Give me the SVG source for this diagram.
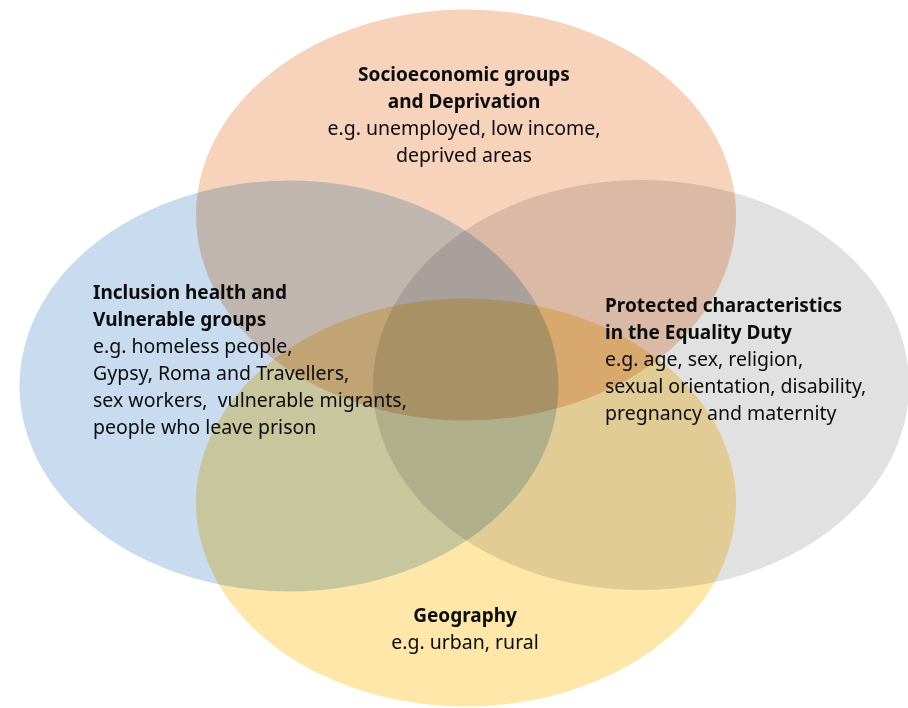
<svg xmlns="http://www.w3.org/2000/svg" width="908" height="708" viewBox="0 0 908 708">
<style>
.c{mix-blend-mode:multiply}
text{font-family:"Noto Sans","Open Sans","Liberation Sans",sans-serif;fill:#0b0c0c}
.b{font-weight:bold;font-size:19px}
.r{font-size:19.5px}
.m{text-anchor:middle}
</style>
<rect width="908" height="708" fill="#ffffff"/>
<g id="circles">
<ellipse id="socio" class="c" cx="466" cy="215" rx="270" ry="205.5" fill="#F7D3BC"/>
<ellipse id="inclusion" class="c" cx="289" cy="386" rx="269.5" ry="205.5" fill="#C8DBEF"/>
<ellipse id="protected" class="c" cx="641" cy="385" rx="268" ry="205" fill="#E1E1E1"/>
<ellipse id="geography" class="c" cx="466" cy="502.5" rx="270" ry="204" fill="#FEE7A8"/>
</g>
<g id="labels">
<g id="socio-label">
<text class="b m" x="464" y="81">Socioeconomic groups</text>
<text class="b m" x="464" y="108">and Deprivation</text>
<text class="r m" x="464" y="135">e.g. unemployed, low income,</text>
<text class="r m" x="464" y="162">deprived areas</text>
</g>
<g id="inclusion-label">
<text class="b" x="93" y="299">Inclusion health and</text>
<text class="b" x="93" y="326">Vulnerable groups</text>
<text class="r" x="93" y="353">e.g. homeless people,</text>
<text class="r" x="93" y="380">Gypsy, Roma and Travellers,</text>
<text class="r" x="93" y="407" xml:space="preserve">sex workers,  vulnerable migrants,</text>
<text class="r" x="93" y="434">people who leave prison</text>
</g>
<g id="protected-label">
<text class="b" x="605" y="312">Protected characteristics</text>
<text class="b" x="605" y="339">in the Equality Duty</text>
<text class="r" x="605" y="366">e.g. age, sex, religion,</text>
<text class="r" x="605" y="393">sexual orientation, disability,</text>
<text class="r" x="605" y="420">pregnancy and maternity</text>
</g>
<g id="geography-label">
<text class="b m" x="465" y="622">Geography</text>
<text class="r m" x="465" y="649">e.g. urban, rural</text>
</g>
</g>
</svg>
